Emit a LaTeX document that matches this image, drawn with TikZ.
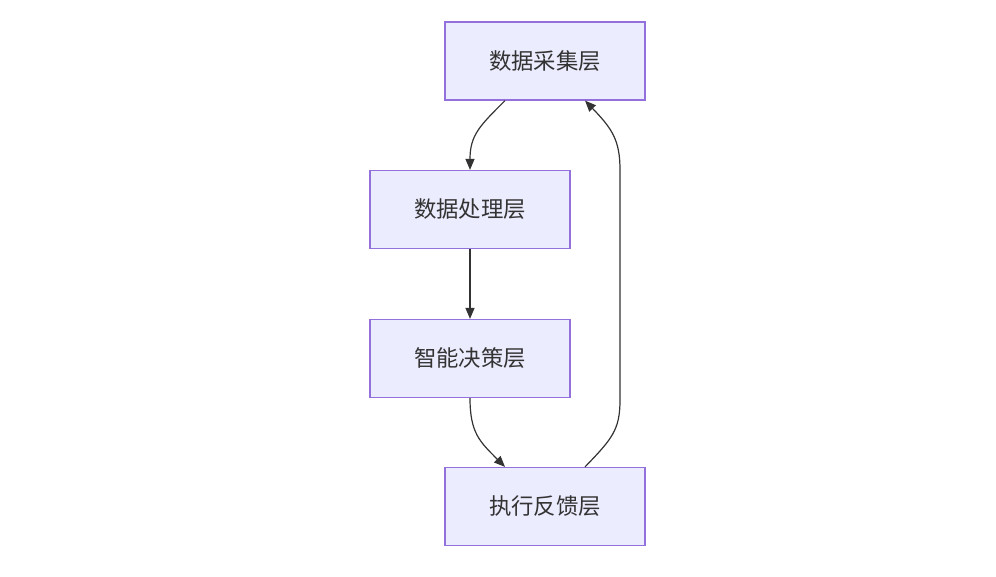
\documentclass[tikz,border=0pt]{standalone}
\usepackage{fontspec}
\newfontfamily\cjk{Noto Sans CJK SC}
\usetikzlibrary{arrows.meta}
\definecolor{nodefill}{HTML}{ECECFF}
\definecolor{nodeline}{HTML}{9370DB}
\definecolor{edgecol}{HTML}{333333}
\tikzset{
  layerbox/.style={draw=nodeline, fill=nodefill, line width=1.2pt, minimum width=200pt, minimum height=78pt, inner sep=0pt, font=\cjk\fontsize{22.4}{26}\selectfont, text=edgecol},
  flow/.style={draw=edgecol, line width=1.2pt, -{Triangle[length=11pt,width=9pt]}}
}
\begin{document}
\begin{tikzpicture}[x=1pt,y=-1pt]
\useasboundingbox (0,0) rectangle (996,576);
\node[layerbox] (A) at (545,61) {数据采集层};
\node[layerbox] (B) at (470,209.5) {数据处理层};
\node[layerbox] (C) at (470,358.5) {智能决策层};
\node[layerbox] (D) at (545,506.5) {执行反馈层};
\coordinate (r1) at (620,400);
\coordinate (r2) at (620,170);
\draw[flow] ([xshift=-40pt]A.south) .. controls +(-25,25) and +(0,-35) .. (B.north);
\draw[flow] (B.south) -- (C.north);
\draw[flow] (C.south) .. controls +(0,35) and +(-25,-25) .. ([xshift=-40pt]D.north);
\draw[flow] ([xshift=40pt]D.north) .. controls +(27,-28) and +(0,30) .. (r1) -- (r2) .. controls +(0,-30) and +(27,28) .. ([xshift=40pt]A.south);
\end{tikzpicture}
\end{document}
